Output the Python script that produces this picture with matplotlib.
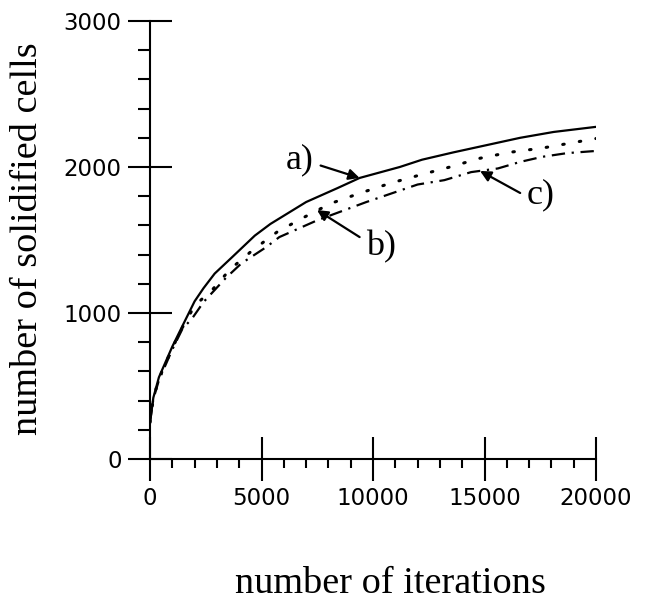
import matplotlib
matplotlib.use("Agg")
import matplotlib.pyplot as plt
from matplotlib.ticker import MultipleLocator

# curve a) solid
iters_a = [0, 150, 400, 1000, 1450, 2000, 2400, 2900, 3700, 4700, 5400, 7000,
           8400, 9400, 11200, 12200, 13600, 15100, 16600, 18100, 20000]
cells_a = [250, 420, 560, 770, 910, 1080, 1170, 1270, 1385, 1530, 1610, 1760,
           1855, 1925, 2000, 2050, 2100, 2150, 2200, 2240, 2275]

# curve b) dotted
iters_b = [0, 150, 400, 1000, 1450, 2000, 2800, 3600, 4600, 5700, 6900, 8100,
           9400, 10800, 12100, 13450, 14800, 16100, 17600, 18900, 20000]
cells_b = [250, 415, 550, 760, 900, 1050, 1160, 1300, 1430, 1555, 1655, 1750,
           1820, 1890, 1945, 2000, 2060, 2100, 2130, 2165, 2195]

# curve c) dash-dot
iters_c = [0, 150, 400, 1000, 1450, 1900, 2400, 3400, 4100, 5200, 5800, 7500,
           9700, 12000, 13200, 14400, 15600, 16600, 17600, 18700, 20000]
cells_c = [250, 410, 540, 750, 890, 965, 1075, 1240, 1340, 1450, 1520, 1635,
           1760, 1880, 1910, 1965, 1990, 2035, 2070, 2095, 2110]

xticks = [0, 5000, 10000, 15000, 20000]
yticks = [0, 1000, 2000, 3000]

serif = "Liberation Serif"

fig = plt.figure(figsize=(6.52, 6.04), dpi=100)
ax = fig.add_axes([150 / 652, 145 / 604, 446 / 652, 438 / 604])

ax.plot(iters_a, cells_a, color="black", lw=1.6, solid_capstyle="round")
ax.plot(iters_b, cells_b, color="black", lw=2.2, linestyle=(0, (0.5, 5)),
        dash_capstyle="round")
ax.plot(iters_c, cells_c, color="black", lw=1.6, linestyle=(0, (6, 3, 1, 3)))

ax.set_xlim(0, 20000)
ax.set_ylim(0, 3000)
for s in ["top", "right"]:
    ax.spines[s].set_visible(False)
for s in ["left", "bottom"]:
    ax.spines[s].set_linewidth(1.5)

ax.set_xticks(xticks)
ax.set_yticks(yticks)
ax.xaxis.set_minor_locator(MultipleLocator(1000))
ax.yaxis.set_minor_locator(MultipleLocator(200))
ax.tick_params(which="major", direction="inout", length=31, width=1.5,
               labelsize=16.5, pad=5)
ax.tick_params(axis="x", which="minor", direction="out", length=6.5, width=1.5)
ax.tick_params(axis="y", which="minor", direction="out", length=8.5, width=1.5)

ax.set_xlabel("number of iterations", family=serif, fontsize=27.5, va="center")
ax.xaxis.set_label_coords((390 - 150) / 446, -(584 - 459) / 438)
ax.set_ylabel("number of solidified cells", family=serif, fontsize=27.5,
              va="center", ha="center")
ax.yaxis.set_label_coords((28 - 150) / 446, (459 - 239) / 438)

arrow = dict(arrowstyle="-|>", color="black", lw=1.6, mutation_scale=16,
             shrinkA=0, shrinkB=0)
ax.annotate("a)", xy=(9400, 1925), xytext=(6700, 2048), family=serif,
            fontsize=26, ha="center", va="center")
ax.annotate("", xy=(9400, 1925), xytext=(7650, 2010), arrowprops=arrow)
ax.annotate("b)", xy=(7490, 1705), xytext=(10360, 1452), family=serif,
            fontsize=26, ha="center", va="center")
ax.annotate("", xy=(7490, 1705), xytext=(9400, 1520), arrowprops=arrow)
ax.annotate("c)", xy=(14800, 1973), xytext=(17530, 1808), family=serif,
            fontsize=26, ha="center", va="center")
ax.annotate("", xy=(14800, 1973), xytext=(16600, 1822), arrowprops=arrow)

fig.savefig("out.png", dpi=100)
